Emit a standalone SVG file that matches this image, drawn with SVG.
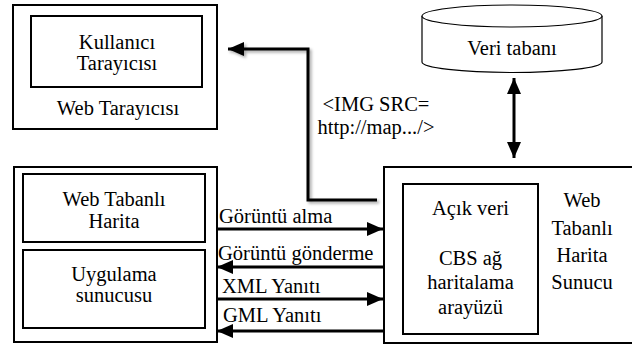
<svg xmlns="http://www.w3.org/2000/svg" width="632" height="345" viewBox="0 0 632 345">
  <style>
    .box { fill: #fff; stroke: #000; stroke-width: 2; }
    .cyl { fill: #fff; stroke: #000; stroke-width: 1.2; }
    text { font-family: 'Liberation Serif', 'Times New Roman', 'DejaVu Serif', serif; font-size: 20.5px; fill: #000; }
    .c { text-anchor: middle; }
    .line { fill: none; stroke: #000; stroke-width: 3; }
  </style>
  <defs>
    <marker id="ah" markerUnits="userSpaceOnUse" markerWidth="18" markerHeight="16" refX="16" refY="7" orient="auto">
      <path d="M0,0 L16,7 L0,14 Z" fill="#000"/>
    </marker>
    <marker id="ahs" markerUnits="userSpaceOnUse" markerWidth="18" markerHeight="16" refX="16" refY="7" orient="auto-start-reverse">
      <path d="M0,0 L16,7 L0,14 Z" fill="#000"/>
    </marker>
    <filter id="sh" x="-10%" y="-10%" width="130%" height="130%">
      <feDropShadow dx="2" dy="2" stdDeviation="1.5" flood-color="#000" flood-opacity="0.35"/>
    </filter>
  </defs>

  <g font-family="'Liberation Serif', 'Times New Roman', 'DejaVu Serif', serif">
  <g id="web-tarayicisi">
    <rect class="box" x="13" y="5" width="204" height="124"/>
    <text class="c" x="118" y="115">Web Tarayıcısı</text>
  </g>
  <g id="kullanici-tarayicisi">
    <rect class="box" x="31" y="16" width="171" height="71"/>
    <text class="c" x="117" y="49">Kullanıcı</text>
    <text class="c" x="117" y="70">Tarayıcısı</text>
  </g>

  <g id="veri-tabani">
    <path class="cyl" d="M422,16 L422,62 A90,10.5 0 0 0 602,62 L602,16"/>
    <ellipse class="cyl" cx="512" cy="16" rx="90" ry="11"/>
    <text class="c" x="512" y="55">Veri tabanı</text>
  </g>

  <g id="istemci">
    <rect class="box" x="14" y="167" width="203" height="175"/>
  </g>
  <g id="web-tabanli-harita">
    <rect class="box" x="23" y="174" width="182" height="68"/>
    <text class="c" x="114" y="206">Web Tabanlı</text>
    <text class="c" x="114" y="228">Harita</text>
  </g>
  <g id="uygulama-sunucusu">
    <rect class="box" x="23" y="250" width="182" height="78"/>
    <text class="c" x="114" y="281">Uygulama</text>
    <text class="c" x="114" y="302">sunucusu</text>
  </g>

  <g id="harita-sunucu">
    <rect class="box" x="384" y="167" width="252" height="176"/>
    <text class="c" x="582" y="207">Web</text>
    <text class="c" x="582" y="235">Tabanlı</text>
    <text class="c" x="582" y="262">Harita</text>
    <text class="c" x="582" y="289">Sunucu</text>
  </g>
  <g id="acik-veri">
    <rect class="box" x="403" y="184" width="135" height="150"/>
    <text class="c" x="470.5" y="215">Açık veri</text>
    <text class="c" x="470.5" y="265">CBS ağ</text>
    <text class="c" x="470.5" y="289">haritalama</text>
    <text class="c" x="470.5" y="314">arayüzü</text>
  </g>

  <g id="connectors">
    <polyline class="line" filter="url(#sh)" points="377,200 308,200 308,49 228,49" marker-end="url(#ah)"/>
    <line class="line" x1="514" y1="78" x2="514" y2="158" marker-start="url(#ahs)" marker-end="url(#ah)"/>
    <line class="line" x1="217" y1="229" x2="383" y2="229" marker-end="url(#ah)"/>
    <line class="line" x1="383" y1="267" x2="217" y2="267" marker-end="url(#ah)"/>
    <line class="line" x1="217" y1="299" x2="383" y2="299" marker-end="url(#ah)"/>
    <line class="line" x1="383" y1="331" x2="217" y2="331" marker-end="url(#ah)"/>
    <text class="c" x="376" y="111">&lt;IMG SRC=</text>
    <text class="c" x="376" y="134">http://map.../&gt;</text>
    <text x="219" y="223">Görüntü alma</text>
    <text x="218" y="260">Görüntü gönderme</text>
    <text x="222" y="293">XML Yanıtı</text>
    <text x="223" y="322">GML Yanıtı</text>
  </g>
  </g>
</svg>
